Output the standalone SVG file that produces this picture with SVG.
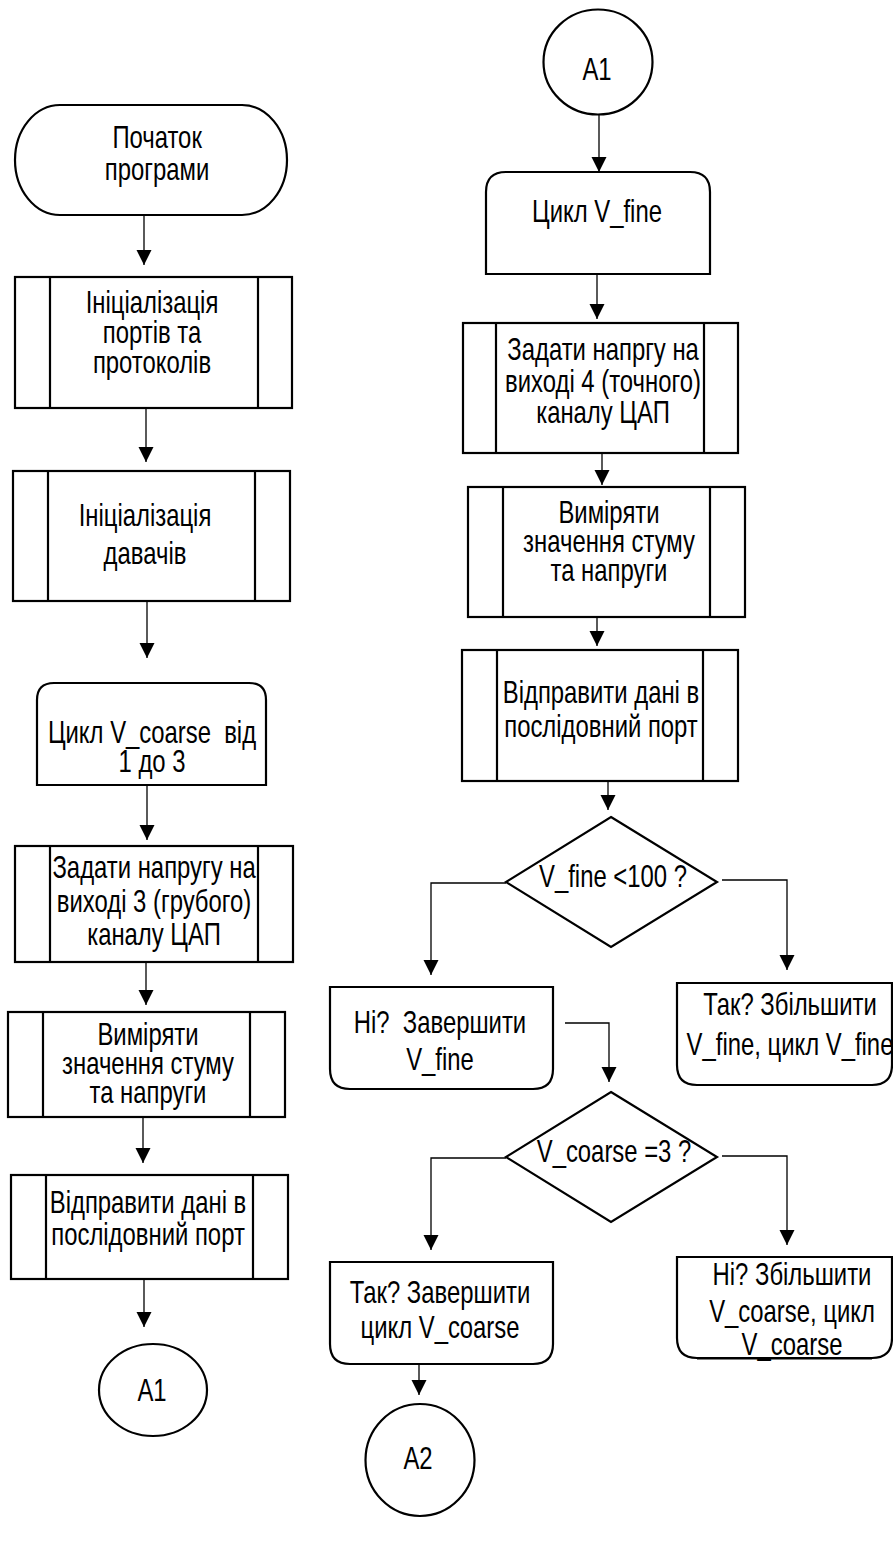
<svg xmlns="http://www.w3.org/2000/svg" width="893" height="1546" viewBox="0 0 893 1546">
  <style>
    .shape { fill: #fff; stroke: #000; stroke-width: 2.2; }
    .bar { fill: none; stroke: #000; stroke-width: 2.2; }
    .edge { fill: none; stroke: #000; stroke-width: 1.3; marker-end: url(#arrow); }
    .t { font-family: "Liberation Sans", Arial, sans-serif; font-size: 31px; fill: #000;
         text-anchor: middle; white-space: pre;
         transform-box: fill-box; transform-origin: center; transform: scaleX(0.77); }
  </style>
  <defs>
    <marker id="arrow" markerUnits="userSpaceOnUse" markerWidth="16" markerHeight="16"
            refX="15" refY="7.5" orient="auto">
      <path d="M0,0 L15,7.5 L0,15 Z" fill="#000"/>
    </marker>
  </defs>
  <rect width="893" height="1546" fill="#fff"/>

  <!-- connectors -->
  <g id="connectors">
    <path class="edge" d="M144,215 V265"/>
    <path class="edge" d="M146,408 V462"/>
    <path class="edge" d="M147,601 V658"/>
    <path class="edge" d="M147,785 V840"/>
    <path class="edge" d="M146,962 V1005"/>
    <path class="edge" d="M143,1117 V1163"/>
    <path class="edge" d="M144,1279 V1327"/>

    <path class="edge" d="M599,115 V172"/>
    <path class="edge" d="M597,274 V319"/>
    <path class="edge" d="M602,453 V485"/>
    <path class="edge" d="M597,617 V646"/>
    <path class="edge" d="M608,775 V810"/>
    <path class="edge" d="M506,883 H431 V975"/>
    <path class="edge" d="M722,880 H787 V970"/>
    <path class="edge" d="M565,1023 H609 V1082"/>
    <path class="edge" d="M506,1158 H431 V1250"/>
    <path class="edge" d="M722,1156 H787 V1245"/>
    <path class="edge" d="M419,1358 V1395"/>
  </g>

  <!-- left column -->
  <g id="start">
    <rect class="shape" x="15" y="105" width="272" height="110" rx="45" ry="55"/>
    <text class="t" x="157" y="148">Початок</text>
    <text class="t" x="157" y="180">програми</text>
  </g>

  <g id="init-ports">
    <rect class="shape" x="15" y="277" width="277" height="131"/>
    <path class="bar" d="M50,277 V408 M258,277 V408"/>
    <text class="t" x="152" y="313">Ініціалізація</text>
    <text class="t" x="152" y="343">портів та</text>
    <text class="t" x="152" y="373">протоколів</text>
  </g>

  <g id="init-sensors">
    <rect class="shape" x="13" y="471" width="277" height="130"/>
    <path class="bar" d="M48,471 V601 M255,471 V601"/>
    <text class="t" x="145" y="526">Ініціалізація</text>
    <text class="t" x="145" y="564">давачів</text>
  </g>

  <g id="loop-coarse">
    <path class="shape" d="M37,785 V700 Q37,683 54,683 H249 Q266,683 266,700 V785 Z"/>
    <text class="t" x="152" y="743">Цикл V_coarse  від</text>
    <text class="t" x="152" y="772">1 до 3</text>
  </g>

  <g id="set-coarse">
    <rect class="shape" x="15" y="846" width="278" height="116"/>
    <path class="bar" d="M50,846 V962 M258,846 V962"/>
    <text class="t" x="154" y="878">Задати напругу на</text>
    <text class="t" x="154" y="912">виході 3 (грубого)</text>
    <text class="t" x="154" y="945">каналу ЦАП</text>
  </g>

  <g id="measure-1">
    <rect class="shape" x="8" y="1012" width="277" height="105"/>
    <path class="bar" d="M43,1012 V1117 M250,1012 V1117"/>
    <text class="t" x="148" y="1045">Виміряти</text>
    <text class="t" x="148" y="1074">значення стуму</text>
    <text class="t" x="148" y="1103">та напруги</text>
  </g>

  <g id="send-1">
    <rect class="shape" x="11" y="1175" width="277" height="104"/>
    <path class="bar" d="M46,1175 V1279 M253,1175 V1279"/>
    <text class="t" x="148" y="1213">Відправити дані в</text>
    <text class="t" x="148" y="1245">послідовний порт</text>
  </g>

  <g id="off-page-a1">
    <ellipse class="shape" cx="153" cy="1390" rx="54" ry="46"/>
    <text class="t" x="152" y="1401">A1</text>
  </g>

  <!-- right column -->
  <g id="on-page-a1">
    <ellipse class="shape" cx="598" cy="62" rx="54.5" ry="52.5"/>
    <text class="t" x="597" y="80">A1</text>
  </g>

  <g id="loop-fine">
    <path class="shape" d="M486,274 V192 Q486,172 506,172 H690 Q710,172 710,192 V274 Z"/>
    <text class="t" x="597" y="222">Цикл V_fine</text>
  </g>

  <g id="set-fine">
    <rect class="shape" x="463" y="323" width="275" height="130"/>
    <path class="bar" d="M496,323 V453 M704,323 V453"/>
    <text class="t" x="603" y="360">Задати напргу на</text>
    <text class="t" x="603" y="392">виході 4 (точного)</text>
    <text class="t" x="603" y="423">каналу ЦАП</text>
  </g>

  <g id="measure-2">
    <rect class="shape" x="468" y="487" width="277" height="130"/>
    <path class="bar" d="M503,487 V617 M710,487 V617"/>
    <text class="t" x="609" y="523">Виміряти</text>
    <text class="t" x="609" y="552">значення стуму</text>
    <text class="t" x="609" y="581">та напруги</text>
  </g>

  <g id="send-2">
    <rect class="shape" x="462" y="650" width="276" height="131"/>
    <path class="bar" d="M497,650 V781 M703,650 V781"/>
    <text class="t" x="601" y="703">Відправити дані в</text>
    <text class="t" x="601" y="737">послідовний порт</text>
  </g>

  <g id="check-fine">
    <path class="shape" d="M611,817 L717,882 L611,947 L506,882 Z"/>
    <text class="t" x="613" y="887">V_fine &lt;100 ?</text>
  </g>

  <g id="end-fine">
    <path class="shape" d="M330,987 H553 V1069 Q553,1089 533,1089 H350 Q330,1089 330,1069 Z"/>
    <text class="t" x="440" y="1033">Ні?  Завершити</text>
    <text class="t" x="440" y="1070">V_fine</text>
  </g>

  <g id="inc-fine">
    <path class="shape" d="M677,983 H892 V1065 Q892,1085 872,1085 H697 Q677,1085 677,1065 Z"/>
    <text class="t" x="790" y="1015">Так? Збільшити</text>
    <text class="t" x="790" y="1055">V_fine, цикл V_fine</text>
  </g>

  <g id="check-coarse">
    <path class="shape" d="M611,1092 L717,1157 L611,1222 L506,1157 Z"/>
    <text class="t" x="614" y="1162">V_coarse =3 ?</text>
  </g>

  <g id="end-coarse">
    <path class="shape" d="M330,1262 H553 V1344 Q553,1364 533,1364 H350 Q330,1364 330,1344 Z"/>
    <text class="t" x="440" y="1303">Так? Завершити</text>
    <text class="t" x="440" y="1338">цикл V_coarse</text>
  </g>

  <g id="inc-coarse">
    <path class="shape" d="M677,1257 H892 V1338 Q892,1358 872,1358 H697 Q677,1358 677,1338 Z"/>
    <text class="t" x="792" y="1285">Ні? Збільшити</text>
    <text class="t" x="792" y="1322">V_coarse, цикл</text>
    <text class="t" x="792" y="1355">V_coarse</text>
    <path class="bar" d="M697,1358.5 H872" stroke-width="3"/>
  </g>

  <g id="off-page-a2">
    <ellipse class="shape" cx="420" cy="1460" rx="54.5" ry="56"/>
    <text class="t" x="418" y="1469">A2</text>
  </g>
</svg>
